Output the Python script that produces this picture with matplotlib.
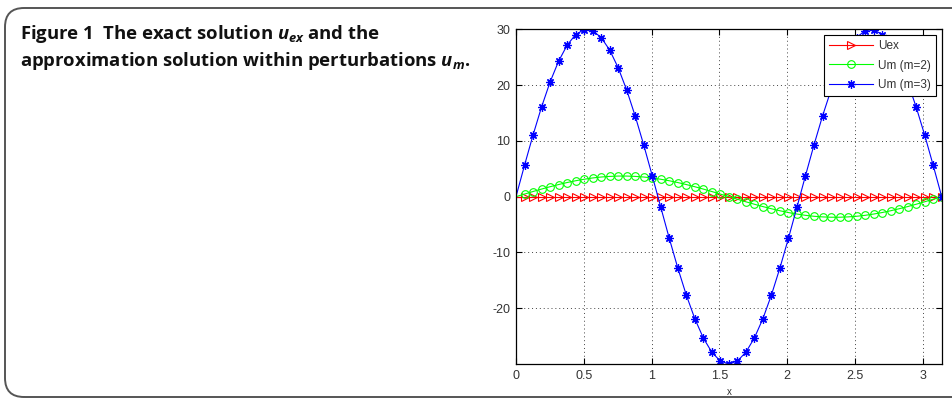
import numpy as np
import matplotlib
matplotlib.use("Agg")
import matplotlib.pyplot as plt
from matplotlib.patches import FancyBboxPatch

# sample positions 0..pi (51 points)
x = np.linspace(0, np.pi, 51)

u_ex = [0.0, 0.0, 0.0, 0.0, 0.0, 0.0, 0.0, 0.0, 0.0, 0.0,
        0.0, 0.0, 0.0, 0.0, 0.0, 0.0, 0.0, 0.0, 0.0, 0.0,
        0.0, 0.0, 0.0, 0.0, 0.0, 0.0, 0.0, 0.0, 0.0, 0.0,
        0.0, 0.0, 0.0, 0.0, 0.0, 0.0, 0.0, 0.0, 0.0, 0.0,
        0.0, 0.0, 0.0, 0.0, 0.0, 0.0, 0.0, 0.0, 0.0, 0.0, 0.0]

u_m2 = [0.0, 0.46, 0.92, 1.36, 1.78, 2.17, 2.53, 2.85, 3.12, 3.35,
        3.52, 3.63, 3.69, 3.69, 3.63, 3.52, 3.35, 3.12, 2.85, 2.53,
        2.17, 1.78, 1.36, 0.92, 0.46, 0.0, -0.46, -0.92, -1.36, -1.78,
        -2.17, -2.53, -2.85, -3.12, -3.35, -3.52, -3.63, -3.69, -3.69, -3.63,
        -3.52, -3.35, -3.12, -2.85, -2.53, -2.17, -1.78, -1.36, -0.92, -0.46, 0.0]

u_m3 = [0.0, 5.62, 11.04, 16.07, 20.54, 24.27, 27.14, 29.06, 29.94, 29.76,
        28.53, 26.29, 23.11, 19.12, 14.45, 9.27, 3.76, -1.88, -7.46, -12.77,
        -17.63, -21.87, -25.33, -27.89, -29.47, -30.0, -29.47, -27.89, -25.33, -21.87,
        -17.63, -12.77, -7.46, -1.88, 3.76, 9.27, 14.45, 19.12, 23.11, 26.29,
        28.53, 29.76, 29.94, 29.06, 27.14, 24.27, 20.54, 16.07, 11.04, 5.62, 0.0]

labels = ["Uex", "Um (m=2)", "Um (m=3)"]
xticks = [0, 0.5, 1, 1.5, 2, 2.5, 3]
yticks = [-20, -10, 0, 10, 20, 30]

plt.rcParams["mathtext.fontset"] = "custom"
plt.rcParams["mathtext.it"] = "Open Sans:italic:bold"
plt.rcParams["mathtext.rm"] = "Open Sans:bold"
plt.rcParams["axes.unicode_minus"] = False

fig = plt.figure(figsize=(9.52, 4.05), dpi=100)

# rounded frame around the figure panel
frame = FancyBboxPatch((5 / 952, 8 / 405), 1.2, 389 / 405,
                       boxstyle="round,pad=0,rounding_size=0.02",
                       transform=fig.transFigure, fill=False,
                       edgecolor="#555555", linewidth=1.4, mutation_aspect=952 / 405)
fig.patches.append(frame)

cap_kw = dict(fontsize=13.3, fontweight="bold", family="Open Sans", color="#111111",
              va="baseline", ha="left")
fig.text(20 / 952, 1 - 39 / 405, r"Figure 1  The exact solution $u_{ex}$ and the", **cap_kw)
fig.text(20 / 952, 1 - 66 / 405, r"approximation solution within perturbations $u_m$.", **cap_kw)

ax = fig.add_axes([516 / 952, 41 / 405, 425.7 / 952, 334.7 / 405])
mk = list(range(1, 51))
ax.plot(x, u_ex, color="red", lw=0.8, marker=">", ms=5.5, mfc="none",
        mew=0.8, markevery=mk, label=labels[0])
ax.plot(x, u_m2, color=(0, 1, 0), lw=0.8, marker="o", ms=5.5, mfc="none",
        mew=0.8, markevery=mk, label=labels[1])
ax.plot(x, u_m3, color="blue", lw=0.8, marker=(8, 2, 0), ms=6,
        mew=0.9, markevery=mk, label=labels[2])

ax.set_xlim(0, np.pi)
ax.set_ylim(-30, 30)
ax.set_xticks(xticks)
ax.set_xticklabels(["0", "0.5", "1", "1.5", "2", "2.5", "3"])
ax.set_yticks(yticks)
ax.grid(True, linestyle=(0, (1, 3)), color="#444444", linewidth=0.7)
ax.tick_params(direction="in", length=4, width=0.8, top=True, right=True,
               labelsize=9, labelcolor="#333333", pad=4)
for lab in ax.get_xticklabels() + ax.get_yticklabels():
    lab.set_family("Liberation Sans")
for s in ax.spines.values():
    s.set_linewidth(0.9)
ax.set_xlabel("x", fontsize=7, family="Liberation Sans", color="#333333", labelpad=4)

leg = ax.legend(loc="upper right", prop={"family": "Liberation Sans", "size": 8.5},
                fancybox=False, framealpha=1, edgecolor="black", handlelength=3.8,
                handletextpad=0.4, labelspacing=0.65, borderaxespad=0.5, numpoints=1)
leg.get_frame().set_linewidth(0.8)
for t in leg.get_texts():
    t.set_color("#333333")

fig.savefig("out.png", dpi=100)
